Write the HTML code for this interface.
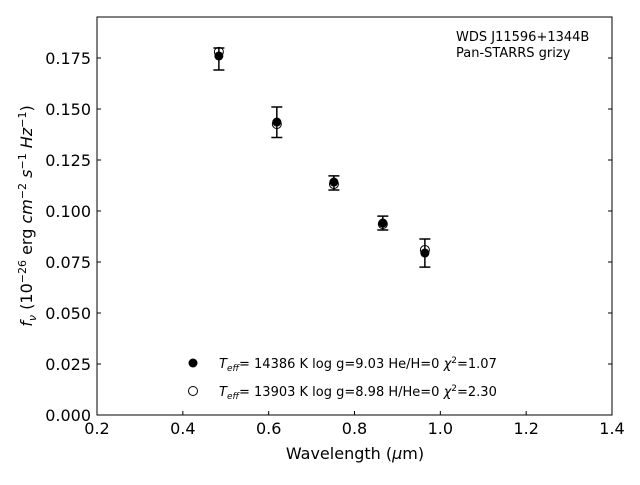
<!DOCTYPE html>
<html><head><meta charset="utf-8"><style>
body{margin:0;background:#fff;font-family:"Liberation Sans","DejaVu Sans",sans-serif}
</style></head><body>
<svg width="640" height="480" xmlns="http://www.w3.org/2000/svg" font-family="DejaVu Sans, Liberation Sans, sans-serif">
<rect width="640" height="480" fill="#fff"/>
<g id="ticks"></g>
<g id="marks"></g>
<rect x="97" y="17" width="515" height="398" fill="none" stroke="#000" stroke-width="1"/>
<text x="456" y="41" font-size="13">WDS J11596+1344B</text>
<text x="456" y="57" font-size="13">Pan-STARRS grizy</text>
<text x="355" y="459" font-size="16" text-anchor="middle">Wavelength (<tspan font-style="italic">μ</tspan>m)</text>
<text transform="translate(32,216) rotate(-90)" font-size="16" text-anchor="middle"><tspan font-style="italic">f<tspan font-size="11" dy="4">ν</tspan></tspan><tspan dy="-4"> (10</tspan><tspan font-size="11" dy="-6">−26</tspan><tspan dy="6"> erg </tspan><tspan font-style="italic">cm</tspan><tspan font-size="11" dy="-6">−2</tspan><tspan dy="6"> </tspan><tspan font-style="italic">s</tspan><tspan font-size="11" dy="-6">−1</tspan><tspan dy="6"> </tspan><tspan font-style="italic">Hz</tspan><tspan font-size="11" dy="-6">−1</tspan><tspan dy="6">)</tspan></text>
<g>
<circle cx="193" cy="363" r="4.5" fill="#000"/>
<text x="219" y="368" font-size="13"><tspan font-style="italic">T<tspan font-size="9" dy="3">eff</tspan></tspan><tspan dy="-3">= 14386 K  log g=9.03  He/H=0  </tspan><tspan font-style="italic">χ</tspan><tspan font-size="9" dy="-5">2</tspan><tspan dy="5">=1.07</tspan></text>
<circle cx="193" cy="391" r="4.5" fill="#fff" stroke="#000" stroke-width="1"/>
<text x="219" y="396" font-size="13"><tspan font-style="italic">T<tspan font-size="9" dy="3">eff</tspan></tspan><tspan dy="-3">= 13903 K  log g=8.98  H/He=0  </tspan><tspan font-style="italic">χ</tspan><tspan font-size="9" dy="-5">2</tspan><tspan dy="5">=2.30</tspan></text>
</g>
</svg>
<script>
const wavelengths=[0.484,0.619,0.752,0.866,0.964];
const observed=[0.176,0.1436,0.1142,0.0941,0.0794];
const errLow=[0.0069,0.0076,0.0039,0.0034,0.0069];
const errHigh=[0.0039,0.0074,0.0030,0.0034,0.0069];
const model=[0.178,0.1426,0.1132,0.0936,0.0809];
const xTicks=["0.2","0.4","0.6","0.8","1.0","1.2","1.4"];
const yTicks=["0.000","0.025","0.050","0.075","0.100","0.125","0.150","0.175"];
const NS="http://www.w3.org/2000/svg";
const X=v=>97+(v-0.2)/1.2*515;
const Y=v=>415-v*2040;
function mk(t,a,p){const e=document.createElementNS(NS,t);for(const k in a)e.setAttribute(k,a[k]);p.appendChild(e);return e;}
const tg=document.getElementById('ticks'),mg=document.getElementById('marks');
xTicks.forEach(s=>{const x=X(+s);
const l=mk('line',{x1:x,x2:x,y1:415,y2:411,stroke:'#000'},tg);


const t=mk('text',{x:x,y:434,'font-size':16,'text-anchor':'middle'},tg);t.textContent=s;

});
yTicks.forEach(s=>{const y=Y(+s);
const l=mk('line',{x1:97,x2:101,y1:y,y2:y,stroke:'#000'},tg);


const l2=mk('line',{x1:608,x2:612,y1:y,y2:y,stroke:'#000'},tg);


const t=mk('text',{x:91,y:y+6,'font-size':16,'text-anchor':'end'},tg);t.textContent=s;

});
wavelengths.forEach((w,i)=>{const x=X(w);
const m=mk('circle',{cx:x,cy:Y(model[i]),r:4.5,fill:'#fff',stroke:'#000','stroke-width':1},mg);


const lo=Y(observed[i]-errLow[i]),hi=Y(observed[i]+errHigh[i]);
const g=mk('path',{d:`M${x},${lo}V${hi}M${x-5.5},${lo}H${x+5.5}M${x-5.5},${hi}H${x+5.5}`,stroke:'#000','stroke-width':1.5,fill:'none'},mg);


const o=mk('circle',{cx:x,cy:Y(observed[i]),r:4.5,fill:'#000'},mg);

});
</script>
</body></html>
